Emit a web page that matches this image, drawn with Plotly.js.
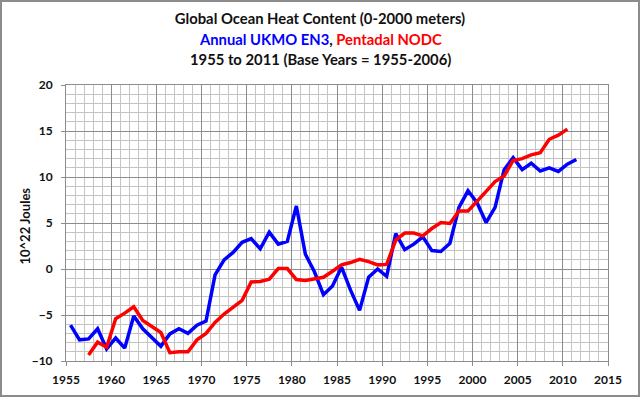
<!DOCTYPE html>
<html>
<head>
<meta charset="utf-8">
<script src="https://cdn.plot.ly/plotly-3.0.1.min.js"></script>
<style>
  html, body { margin: 0; padding: 0; background: #fff; }
  #wrap { position: relative; width: 640px; height: 397px; }
  #chart { width: 640px; height: 397px; }
  #frame { position: absolute; left: 0; top: 0; width: 636px; height: 393px; border: 2px solid #8c8c8c; pointer-events: none; }
</style>
</head>
<body>
<div id="wrap"><div id="chart"></div><div id="frame"></div></div>
<script>
// Annual UKMO EN3 (10^22 Joules), plotted at mid-year
const ukmoYears = [1955.5,1956.5,1957.5,1958.5,1959.5,1960.5,1961.5,1962.5,1963.5,1964.5,
  1965.5,1966.5,1967.5,1968.5,1969.5,1970.5,1971.5,1972.5,1973.5,1974.5,
  1975.5,1976.5,1977.5,1978.5,1979.5,1980.5,1981.5,1982.5,1983.5,1984.5,
  1985.5,1986.5,1987.5,1988.5,1989.5,1990.5,1991.5,1992.5,1993.5,1994.5,
  1995.5,1996.5,1997.5,1998.5,1999.5,2000.5,2001.5,2002.5,2003.5,2004.5,
  2005.5,2006.5,2007.5,2008.5,2009.5,2010.5,2011.5];
const ukmoValues = [-6.1,-7.7,-7.6,-6.5,-8.7,-7.5,-8.6,-5.1,-6.5,-7.4,
  -8.4,-7.05,-6.5,-7.0,-6.1,-5.65,-0.65,1.0,1.8,2.9,
  3.3,2.2,4.0,2.7,3.0,6.85,1.6,-0.3,-2.8,-1.85,
  0.2,-2.3,-4.5,-0.9,0.0,-0.8,3.85,2.1,2.7,3.5,
  2.0,1.9,2.8,6.7,8.5,7.2,5.05,6.7,10.8,12.1,
  10.8,11.5,10.65,11.0,10.6,11.4,11.9];

// Pentadal NODC (10^22 Joules), centred pentads
const nodcYears = [1957.5,1958.5,1959.5,1960.5,1961.5,1962.5,1963.5,1964.5,1965.5,1966.5,
  1967.5,1968.5,1969.5,1970.5,1971.5,1972.5,1973.5,1974.5,1975.5,1976.5,
  1977.5,1978.5,1979.5,1980.5,1981.5,1982.5,1983.5,1984.5,1985.5,1986.5,
  1987.5,1988.5,1989.5,1990.5,1991.5,1992.5,1993.5,1994.5,1995.5,1996.5,
  1997.5,1998.5,1999.5,2000.5,2001.5,2002.5,2003.5,2004.5,2005.5,2006.5,
  2007.5,2008.5,2009.5,2010.5];
const nodcValues = [-9.35,-7.95,-8.5,-5.4,-4.8,-4.1,-5.6,-6.2,-6.9,-9.1,
  -9.0,-9.0,-7.7,-7.0,-5.8,-4.9,-4.1,-3.4,-1.4,-1.35,
  -1.1,0.05,0.05,-1.15,-1.25,-1.1,-0.9,-0.25,0.45,0.7,
  1.05,0.8,0.45,0.5,3.15,3.9,3.9,3.6,4.4,5.05,
  4.95,6.3,6.3,7.35,8.4,9.5,10.1,11.8,12.0,12.4,
  12.65,14.1,14.55,15.2];

const titleLines = [
  'Global Ocean Heat Content (0-2000 meters)',
  'Annual UKMO EN3',
  'Pentadal NODC',
  '1955 to 2011 (Base Years = 1955-2006)'
];
const yTitle = '10^22 Joules';

const FONT = 'Lato, "Open Sans", sans-serif';
const TSIZE = 14.8;

const traces = [
  { x: ukmoYears, y: ukmoValues, type: 'scatter', mode: 'lines', name: 'Annual UKMO EN3',
    line: { color: '#0000ff', width: 3.5 } },
  { x: nodcYears, y: nodcValues, type: 'scatter', mode: 'lines', name: 'Pentadal NODC',
    line: { color: '#ff0000', width: 3.5 } }
];

// plot area spans x = 66 .. 608 px and y = 85 .. 361 px
const pxToPaper = px => (px - 66) / 542;
const pyToPaper = py => (361 - py) / 276;

const layout = {
  width: 640, height: 397,
  margin: { l: 66, r: 32, t: 85, b: 36 },
  paper_bgcolor: '#ffffff', plot_bgcolor: '#ffffff',
  showlegend: false,
  font: { family: FONT, color: '#1a1a1a' },
  title: {
    text: '<b>' + titleLines[0] + '</b>',
    font: { family: FONT, size: TSIZE, color: '#111111' },
    x: 0.5, xanchor: 'center', xref: 'container',
    y: 1 - 19 / 397, yanchor: 'middle', yref: 'container'
  },
  annotations: [
    { text: '<b><span style="color:#0000ff">' + titleLines[1] + '</span>, <span style="color:#ff0000">' + titleLines[2] + '</span></b>',
      xref: 'paper', yref: 'paper', x: pxToPaper(320), y: pyToPaper(39), xanchor: 'center', yanchor: 'middle',
      showarrow: false, font: { family: FONT, size: TSIZE, color: '#111111' } },
    { text: '<b>' + titleLines[3] + '</b>',
      xref: 'paper', yref: 'paper', x: pxToPaper(320), y: pyToPaper(59), xanchor: 'center', yanchor: 'middle',
      showarrow: false, font: { family: FONT, size: TSIZE, color: '#111111' } },
    { text: '<b>' + yTitle + '</b>', textangle: -90,
      xref: 'paper', yref: 'paper', x: pxToPaper(24.5), y: pyToPaper(226), xanchor: 'center', yanchor: 'middle',
      showarrow: false, font: { family: FONT, size: 13, color: '#111111' } }
  ],
  xaxis: {
    range: [1955, 2015], tick0: 1955, dtick: 5, tickmode: 'linear',
    showgrid: true, gridcolor: '#8c8c8c', gridwidth: 1,
    minor: { dtick: 1, tick0: 1955, showgrid: true, gridcolor: '#c4c4c4', gridwidth: 1 },
    zeroline: false, showline: true, linecolor: '#8c8c8c', linewidth: 1, mirror: true,
    ticks: 'outside', ticklen: 4, tickcolor: '#8c8c8c',
    tickfont: { family: FONT, size: 12, weight: 'bold', color: '#111111' },
    ticklabelstandoff: 4
  },
  yaxis: {
    range: [-10, 20], tick0: -10, dtick: 5, tickmode: 'linear',
    showgrid: true, gridcolor: '#8c8c8c', gridwidth: 1,
    minor: { dtick: 1, tick0: -10, showgrid: true, gridcolor: '#c4c4c4', gridwidth: 1 },
    zeroline: false, showline: true, linecolor: '#8c8c8c', linewidth: 1, mirror: true,
    ticks: 'outside', ticklen: 4, tickcolor: '#8c8c8c',
    tickfont: { family: FONT, size: 12, weight: 'bold', color: '#111111' },
    ticklabelstandoff: 6
  }
};

Plotly.newPlot('chart', traces, layout, { displayModeBar: false, staticPlot: true });
</script>
</body>
</html>
